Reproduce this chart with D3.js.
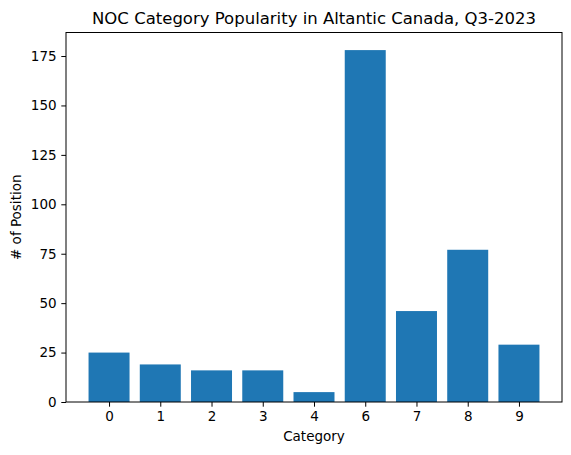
<!DOCTYPE html>
<html><head><meta charset="utf-8">
<script src="https://cdn.jsdelivr.net/npm/d3@7"></script>
<style>body{margin:0;background:#fff}svg{display:block}text{font-family:"DejaVu Sans",sans-serif;fill:#000}</style>
</head><body><svg id="c" width="571" height="455"></svg>
<script>
const categories = ["0","1","2","3","4","6","7","8","9"];
const counts = [25, 19, 16, 16, 5, 178, 46, 77, 29];
const yTicks = [0, 25, 50, 75, 100, 125, 150, 175];
const titleText = "NOC Category Popularity in Altantic Canada, Q3-2023";
const xLabel = "Category";
const yLabel = "# of Position";

const svg = d3.select("#c");
const L = 66, R = 562, T = 32.5, B = 402;
const n = categories.length;
const x = d3.scaleLinear().domain([-0.84, n - 1 + 0.84]).range([L, R]);
const ymax = d3.max(counts) * 1.05;
const y = d3.scaleLinear().domain([0, ymax]).range([B, T]);
const fs = 13.5;

svg.append("g").selectAll("rect").data(counts).join("rect")
  .attr("x", (d, i) => x(i - 0.4)).attr("width", (d, i) => x(i + 0.4) - x(i - 0.4))
  .attr("y", d => y(d)).attr("height", d => B - y(d)).attr("fill", "#1f77b4");

const xa = svg.append("g").attr("transform", `translate(0,${B})`)
  .call(d3.axisBottom(x).tickValues(d3.range(n)).tickFormat(i => categories[i]).tickSize(4.7).tickPadding(4.7));
const ya = svg.append("g").attr("transform", `translate(${L},0)`)
  .call(d3.axisLeft(y).tickValues(yTicks).tickSize(4.7).tickPadding(4.7));
[xa, ya].forEach(a => {
  a.select(".domain").remove();
  a.selectAll("line").attr("stroke", "#000").attr("stroke-width", 1);
  a.selectAll("text").attr("font-size", fs).attr("font-family", "DejaVu Sans");
});

svg.append("rect").attr("x", L).attr("y", T).attr("width", R - L).attr("height", B - T)
  .attr("fill", "none").attr("stroke", "#000").attr("stroke-width", 1);

svg.append("text").attr("x", (L + R) / 2).attr("y", 24).attr("text-anchor", "middle")
  .attr("font-size", 16.5).text(titleText);
svg.append("text").attr("x", (L + R) / 2).attr("y", 440.5).attr("text-anchor", "middle")
  .attr("font-size", fs).text(xLabel);
svg.append("text").attr("transform", `translate(21,${(T + B) / 2}) rotate(-90)`).attr("text-anchor", "middle")
  .attr("font-size", fs).text(yLabel);
</script></body></html>
